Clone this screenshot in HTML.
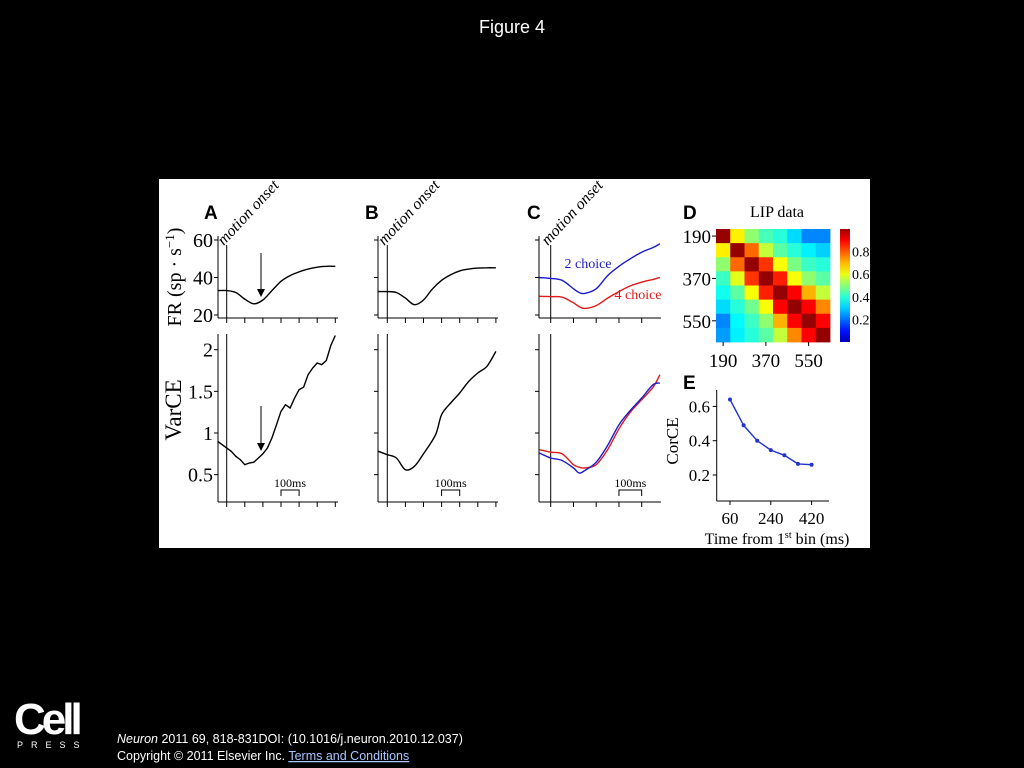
<!DOCTYPE html>
<html><head><meta charset="utf-8"><style>
html,body{margin:0;padding:0;background:#000;width:1024px;height:768px;overflow:hidden}
svg{display:block}
.ser{font-family:"Liberation Serif",serif}
.san{font-family:"Liberation Sans",sans-serif}
</style></head><body>
<svg id="fig" width="1024" height="768" viewBox="0 0 1024 768" xmlns="http://www.w3.org/2000/svg">
<rect x="0" y="0" width="1024" height="768" fill="#000"/>
<text x="512" y="33" text-anchor="middle" class="san" font-size="18" fill="#fff">Figure 4</text>
<rect x="159" y="179" width="711" height="369" fill="#fff"/>
<g id="plots"></g>
<text x="14" y="734" class="san" font-size="44" font-weight="bold" fill="#fff" letter-spacing="-4">Cell</text>
<text x="17" y="748" class="san" font-size="9" fill="#fff" letter-spacing="8">PRESS</text>
<text x="117" y="743" class="san" font-size="12.5" fill="#fff"><tspan font-style="italic">Neuron</tspan> 2011 69, 818-831DOI: (10.1016/j.neuron.2010.12.037)</text>
<text x="117" y="760" class="san" font-size="12.5" fill="#fff">Copyright © 2011 Elsevier Inc. <tspan text-decoration="underline" fill="#aac4ff"> Terms and Conditions</tspan></text>
</svg>
<script>
// ---- data ----
const tGrid = [-50,0,50,100,150,200,250,300,350,400,450,500,550,600];
const frA = [33,33,32,28.5,26,28,33,38,41,43,44.5,45.5,46,46];
const frB = [32.5,32.5,32,29,25.5,28,34,38.5,41.5,43.5,44.5,45,45.2,45.2];
const tVarA = [-50,-25,0,25,50,75,100,125,150,175,200,225,250,275,300,325,350,375,400,425,450,475,500,525,550,575,600];
const varA = [0.9,0.86,0.82,0.78,0.72,0.68,0.62,0.64,0.65,0.7,0.75,0.82,0.94,1.1,1.26,1.34,1.3,1.42,1.52,1.55,1.7,1.78,1.84,1.82,1.87,2.05,2.17];
const tVarB = [-50,0,50,100,150,200,267,300,350,400,450,500,550,600];
const varB = [0.78,0.74,0.7,0.56,0.6,0.75,0.98,1.22,1.36,1.48,1.62,1.72,1.8,1.98];
const tC = [-50,0,50,100,125,150,200,250,300,350,400,450,480];
const frC2 = [40,39.5,38.5,34,32,31.5,34,41,46,50,53.5,56,58];
const frC4 = [30,29.8,29.5,26.5,24.5,23.5,25,29,32.5,35.5,37.5,39,40];
const varC4 = [0.8,0.77,0.75,0.62,0.59,0.58,0.62,0.8,1.05,1.25,1.4,1.55,1.7];
const varC2 = [0.76,0.7,0.67,0.58,0.52,0.55,0.65,0.85,1.1,1.27,1.42,1.58,1.6];
const frTicks = [20,40,60];
const varTicks = [0.5,1,1.5,2];
const heat = [
 [0.95,0.62,0.5,0.43,0.4,0.33,0.25,0.25],
 [0.62,0.95,0.75,0.55,0.45,0.4,0.35,0.32],
 [0.5,0.75,0.95,0.8,0.6,0.48,0.42,0.4],
 [0.42,0.58,0.8,0.95,0.82,0.6,0.5,0.45],
 [0.38,0.45,0.6,0.82,0.95,0.85,0.68,0.55],
 [0.33,0.4,0.47,0.6,0.85,0.95,0.85,0.72],
 [0.25,0.36,0.42,0.5,0.68,0.85,0.95,0.85],
 [0.27,0.35,0.4,0.45,0.55,0.72,0.85,0.95]];
const heatTicks = [190,370,550];
const cbTicks = [0.2,0.4,0.6,0.8];
const eX = [60,120,180,240,300,360,420];
const eY = [0.64,0.49,0.40,0.345,0.315,0.265,0.26];
const eXTicks = [60,240,420];
const eYTicks = [0.2,0.4,0.6];

// ---- scales ----
const NS='http://www.w3.org/2000/svg';
const G=document.getElementById('plots');
function mk(tag,attrs,parent){const e=document.createElementNS(NS,tag);for(const k in attrs)e.setAttribute(k,attrs[k]);(parent||G).appendChild(e);return e;}
const xA=t=>226.7+t*0.181, xB=t=>387.3+t*0.181, xC=t=>550.7+t*0.2275;
const yFR=v=>315-(v-20)*1.875;
const yV=v=>433-(v-1)*83.3;
function line(x1,y1,x2,y2,nm){const l=mk('line',{x1,y1,x2,y2,stroke:'#000','stroke-width':1});

return l;}
function txt(x,y,s,size,nm,extra){const t=mk('text',Object.assign({x,y,'font-size':size,fill:'#000','class':'ser'},extra||{}));t.textContent=s;

return t;}
function path(xs,ys,fx,fy,col,nm,smooth){
  const P=xs.map((x,i)=>[fx(x),fy(ys[i])]);
  let d='M'+P[0][0].toFixed(1)+','+P[0][1].toFixed(1);
  for(let i=0;i<P.length-1;i++){
    if(!smooth){d+='L'+P[i+1][0].toFixed(1)+','+P[i+1][1].toFixed(1);continue;}
    const p0=P[Math.max(0,i-1)],p1=P[i],p2=P[i+1],p3=P[Math.min(P.length-1,i+2)];
    const c1=[p1[0]+(p2[0]-p0[0])/6,p1[1]+(p2[1]-p0[1])/6],c2=[p2[0]-(p3[0]-p1[0])/6,p2[1]-(p3[1]-p1[1])/6];
    d+=`C${c1[0].toFixed(1)},${c1[1].toFixed(1)} ${c2[0].toFixed(1)},${c2[1].toFixed(1)} ${p2[0].toFixed(1)},${p2[1].toFixed(1)}`;}
  const p=mk('path',{d,fill:'none',stroke:col,'stroke-width':1.4});
  
  return p;}

function panel(id,axisX,fx,nT,xEnd,labels){
  line(axisX,236,axisX,318,id+'-fr-y-axis');
  line(axisX,318,xEnd,318,id+'-fr-x-axis');
  frTicks.forEach(v=>{line(axisX-4,yFR(v),axisX,yFR(v),id+'-fr-y-tick');
    if(labels)txt(axisX-5,yFR(v)+7,String(v),20,'fr-tick-label',{'text-anchor':'end'});});
  line(axisX,334,axisX,502,id+'-var-y-axis');
  line(axisX,502,xEnd,502,id+'-var-x-axis');
  varTicks.forEach(v=>{line(axisX-4,yV(v),axisX,yV(v),id+'-var-y-tick');
    if(labels)txt(axisX-5,yV(v)+7,String(v),20,'var-tick-label',{'text-anchor':'end'});});
  for(let k=0;k<nT;k++){const x=fx(k*100);
    line(x,318,x,323,id+'-fr-x-tick');line(x,502,x,507,id+'-var-x-tick');}
  line(fx(0),245,fx(0),318,id+'-onset-line-top');
  line(fx(0),334,fx(0),502,id+'-onset-line-bottom');
  const t=txt(fx(0)-3,246,'motion onset',16,id+'-motion-onset-label',{'font-style':'italic'});
  t.setAttribute('transform','rotate(-47 '+(fx(0)-3)+' 246)');
  const b1=fx(300),b2=fx(400);
  const br=mk('path',{d:`M${b1},496V490H${b2}V496`,fill:'none',stroke:'#000','stroke-width':1});
  
  
  txt((b1+b2)/2,487,'100ms',12,id+'-scale-bar-label',{'text-anchor':'middle'});
}
panel('a',218,xA,7,338,true);
panel('b',378,xB,7,498,false);
panel('c',539,xC,5,661,false);

[['A',204],['B',365],['C',527],['D',683]].forEach(([s,x])=>{txt(x,219,s,19,'panel-letter-'+s.toLowerCase(),{'font-weight':'bold','class':'san'});});
txt(683,389,'E',19,'panel-letter-e',{'font-weight':'bold','class':'san'});
const fl=txt(181,277,'',20,'fr-axis-title',{'text-anchor':'middle',transform:'rotate(-90 181 277)'});
fl.innerHTML='FR (sp · s<tspan dy="-7" font-size="13">−1</tspan><tspan dy="7">)</tspan>';
txt(181,410,'VarCE',23,'varce-axis-title',{'text-anchor':'middle',transform:'rotate(-90 181 410)'});

path(tGrid,frA,xA,yFR,'#000','a-fr-line',true);
path(tVarA,varA,xA,yV,'#000','a-varce-line',false);
path(tGrid,frB,xB,yFR,'#000','b-fr-line',true);
path(tVarB,varB,xB,yV,'#000','b-varce-line',true);
path(tC,frC2,xC,yFR,'#1a1acc','c-fr-2choice-line',true);
path(tC,frC4,xC,yFR,'#e01b1b','c-fr-4choice-line',true);
path(tC,varC4,xC,yV,'#e01b1b','c-varce-4choice-line',true);
path(tC,varC2,xC,yV,'#1a1acc','c-varce-2choice-line',true);
txt(588,268,'2 choice',14,'legend-2-choice',{'text-anchor':'middle',fill:'#1a1acc'});
txt(638,299,'4 choice',14,'legend-4-choice',{'text-anchor':'middle',fill:'#e01b1b'});
[[253,297],[406,451]].forEach(([a,b])=>{line(261,a,261,b-5,'arrow-shaft');
  const h=mk('path',{d:`M257,${b-8}L261,${b}L265,${b-8}Z`,fill:'#000'});
  
  });

function jet(v){v=Math.max(0,Math.min(1,v));
  const r=Math.max(0,Math.min(1,1.5-Math.abs(4*v-3))),g=Math.max(0,Math.min(1,1.5-Math.abs(4*v-2))),b=Math.max(0,Math.min(1,1.5-Math.abs(4*v-1)));
  return `rgb(${Math.round(r*255)},${Math.round(g*255)},${Math.round(b*255)})`;}
const cmax=0.97;
const hx0=716,hy0=229,hw=114,hh=113,n=heat.length,cw=hw/n,ch=hh/n;
heat.forEach((row,i)=>row.forEach((v,j)=>{const r=mk('rect',{x:hx0+j*cw,y:hy0+i*ch,width:cw+0.4,height:ch+0.4,fill:jet(v/cmax)});
  
  }));
const hPos=v=>(v-190)/60+0.5;
heatTicks.forEach(v=>{const p=hPos(v);
  line(hx0-4,hy0+p*ch,hx0,hy0+p*ch,'heatmap-y-tick');
  txt(hx0-5,hy0+p*ch+7,String(v),19,'heatmap-y-label',{'text-anchor':'end'});
  line(hx0+p*cw,hy0+hh,hx0+p*cw,hy0+hh+4,'heatmap-x-tick');
  txt(hx0+p*cw,hy0+hh+25,String(v),19,'heatmap-x-label',{'text-anchor':'middle'});});
txt(777,217,'LIP data',16,'heatmap-title',{'text-anchor':'middle'});
const defs=mk('defs',{});const lg=mk('linearGradient',{id:'jetg',x1:0,y1:1,x2:0,y2:0},defs);
for(let k=0;k<=10;k++){mk('stop',{offset:k/10,'stop-color':jet(0.05+k/10*0.92)},lg);}
const cb=mk('rect',{x:840,y:229,width:10,height:113,fill:'url(#jetg)'});


const yCB=v=>342-v*113;
cbTicks.forEach(v=>txt(852,yCB(v)+5,v.toFixed(1),14,'colorbar-label'));

const xE=v=>730+(v-60)*(40.8/180), yE=v=>475-(v-0.2)*171.5;
line(716.7,390,716.7,501,'e-y-axis');line(716.7,501,829,501,'e-x-axis');
eYTicks.forEach(v=>{line(712.7,yE(v),716.7,yE(v),'e-y-tick');txt(710,yE(v)+6,v.toFixed(1),17,'e-y-label',{'text-anchor':'end'});});
eXTicks.forEach(v=>{line(xE(v),501,xE(v),505,'e-x-tick');txt(xE(v),524,String(v),17,'e-x-label',{'text-anchor':'middle'});});
path(eX,eY,xE,yE,'#2233cc','e-corce-line',false);
eX.forEach((x,i)=>{const c=mk('circle',{cx:xE(x),cy:yE(eY[i]),r:2,fill:'#2233cc'});
  
  });
txt(678,441,'CorCE',17,'e-y-title',{'text-anchor':'middle',transform:'rotate(-90 678 441)'});
const xt=txt(777,544,'',16,'e-x-title',{'text-anchor':'middle'});
xt.innerHTML='Time from 1<tspan dy="-6" font-size="10">st</tspan><tspan dy="6"> bin (ms)</tspan>';
</script>
</body></html>
